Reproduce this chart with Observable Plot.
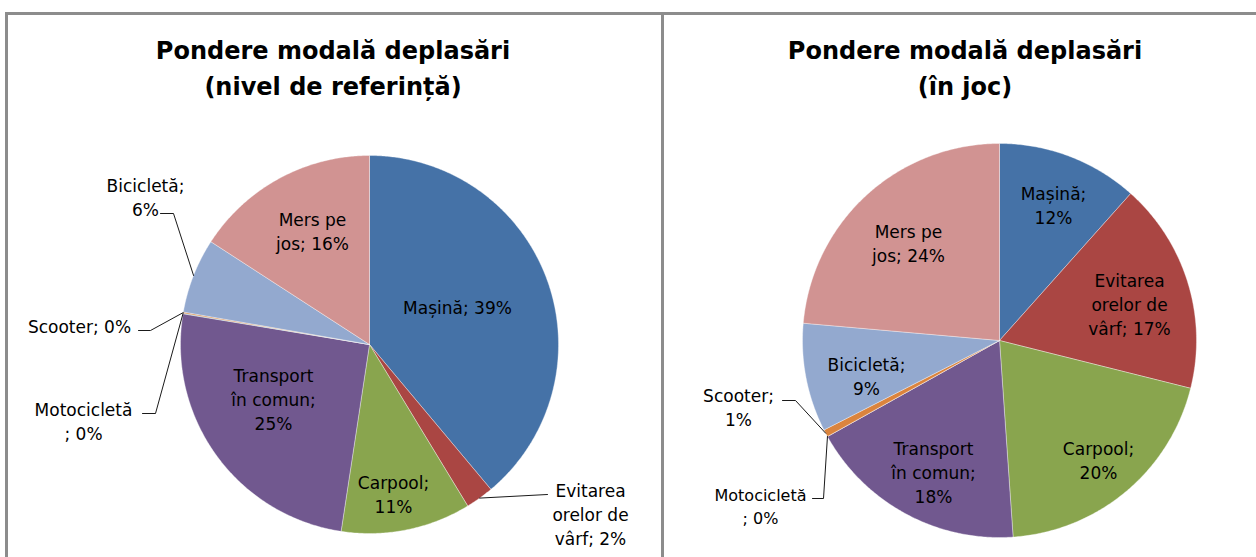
<!DOCTYPE html>
<html>
<head>
<meta charset="utf-8">
<script src="https://cdn.jsdelivr.net/npm/d3@7"></script>
<script src="https://cdn.jsdelivr.net/npm/@observablehq/plot@0.6"></script>
<style>
  html, body { margin: 0; padding: 0; background: #fff; }
  body { width: 1256px; height: 557px; overflow: hidden; position: relative; font-family: "DejaVu Sans", sans-serif; }
  .panel { position: absolute; top: 12px; height: 600px; border: 3px solid #8c8c8c; border-bottom: none; box-sizing: border-box; }
  .title { position: absolute; top: 33px; text-align: center; font-weight: bold; font-size: 24px; line-height: 36px; color: #000; white-space: nowrap; }
  .chart { position: absolute; top: 15px; }
</style>
</head>
<body>
<div class="panel" id="pL" style="left:5px;width:659px;"></div>
<div class="panel" id="pR" style="left:661px;width:640px;border-right:none;"></div>
<div class="title" style="left:8px;width:650px;">Pondere modală deplasări<br>(nivel de referință)</div>
<div class="title" style="left:664px;width:602px;">Pondere modală deplasări<br>(în joc)</div>
<div class="chart" id="cL" style="left:8px;"></div>
<div class="chart" id="cR" style="left:664px;"></div>
<script>
// ---- data ----
const categories = ["Mașină", "Evitarea orelor de vârf", "Carpool", "Transport în comun", "Motocicletă", "Scooter", "Bicicletă", "Mers pe jos"];
const colors = ["#4572A7", "#AA4643", "#89A54E", "#71588F", "#4198AF", "#DB843D", "#93A9CF", "#D19392"];
const valuesReference = [38.9, 2.4, 11.1, 25.2, 0.05, 0.1, 6.4, 15.85];
const valuesInGame = [11.6, 17.3, 20.0, 18.0, 0.0, 0.6, 8.9, 23.6];
const labelsReference = ["Mașină; 39%", "Evitarea\norelor de\nvârf; 2%", "Carpool;\n11%", "Transport\nîn comun;\n25%", "Motocicletă\n; 0%", "Scooter; 0%", "Bicicletă;\n6%", "Mers pe\njos; 16%"];
const labelsInGame = ["Mașină;\n12%", "Evitarea\norelor de\nvârf; 17%", "Carpool;\n20%", "Transport\nîn comun;\n18%", "Motocicletă\n; 0%", "Scooter;\n1%", "Bicicletă;\n9%", "Mers pe\njos; 24%"];

// ---- layout (page pixels) ----
const layoutL = {
  left: 8, top: 15, width: 653, height: 542, cx: 369, cy: 344, r: 189,
  text: [[457, 306], [590, 513], [393, 493], [273, 398], [83, 420], [79, 325], [145, 196], [312, 230]],
  size: [17, 17, 17, 17, 17, 17, 17, 17],
  leader: {1: [[547, 494]], 4: [[142, 413], [155, 413]], 5: [[138, 330], [150, 330]], 6: [[160, 213], [173, 213]]}
};
const layoutR = {
  left: 664, top: 15, width: 592, height: 542, cx: 999, cy: 340, r: 197,
  text: [[1053, 204], [1129, 303], [1098, 459], [933, 471], [760, 505], [738, 406], [866, 375], [908, 242]],
  size: [17, 17, 17, 17, 16, 17, 17, 17],
  leader: {4: [[812, 498], [823, 498]], 5: [[782, 400], [795, 400]]}
};

function pie(values, labels, L) {
  const total = d3.sum(values);
  const u = px => (px - L.cx) / L.r;
  const v = py => (L.cy - py) / L.r;
  let acc = 0;
  const pts = [], mids = [];
  categories.forEach((name, i) => {
    const a0 = acc / total * 2 * Math.PI;
    acc += values[i];
    const a1 = acc / total * 2 * Math.PI;
    const steps = Math.max(2, Math.ceil((a1 - a0) / (Math.PI / 360)));
    pts.push({name, x: 0, y: 0});
    for (let k = 0; k <= steps; k++) {
      const a = a0 + (a1 - a0) * k / steps;
      pts.push({name, x: Math.sin(a), y: Math.cos(a)});
    }
    pts.push({name, x: 0, y: 0});
    mids.push((a0 + a1) / 2);
  });
  const texts = labels.map((t, i) => ({text: t, x: u(L.text[i][0]), y: v(L.text[i][1]), size: L.size[i]}));
  const leaders = [];
  Object.entries(L.leader).forEach(([k, path]) => {
    const i = +k;
    path.forEach(([px, py]) => leaders.push({id: i, x: u(px), y: v(py)}));
    leaders.push({id: i, x: Math.sin(mids[i]), y: Math.cos(mids[i])});
  });
  return Plot.plot({
    width: L.width, height: L.height,
    margin: 0,
    style: {fontFamily: "DejaVu Sans, sans-serif", background: "transparent", overflow: "visible"},
    x: {domain: [u(L.left), u(L.left + L.width)], axis: null},
    y: {domain: [v(L.top + L.height), v(L.top)], axis: null},
    color: {domain: categories, range: colors},
    marks: [
      Plot.line(pts, {x: "x", y: "y", z: "name", fill: "name", stroke: "#ffffff", strokeWidth: 0.6, strokeOpacity: 0.6, curve: "linear"}),
      Plot.line(leaders, {x: "x", y: "y", z: "id", stroke: "#000", strokeWidth: 0.9, curve: "linear"}),
      Plot.text(texts, {x: "x", y: "y", text: "text", fontSize: d => d.size, lineHeight: 1.42, fill: "#000", textAnchor: "middle"})
    ]
  });
}

document.getElementById("cL").appendChild(pie(valuesReference, labelsReference, layoutL));
document.getElementById("cR").appendChild(pie(valuesInGame, labelsInGame, layoutR));
</script>
</body>
</html>
